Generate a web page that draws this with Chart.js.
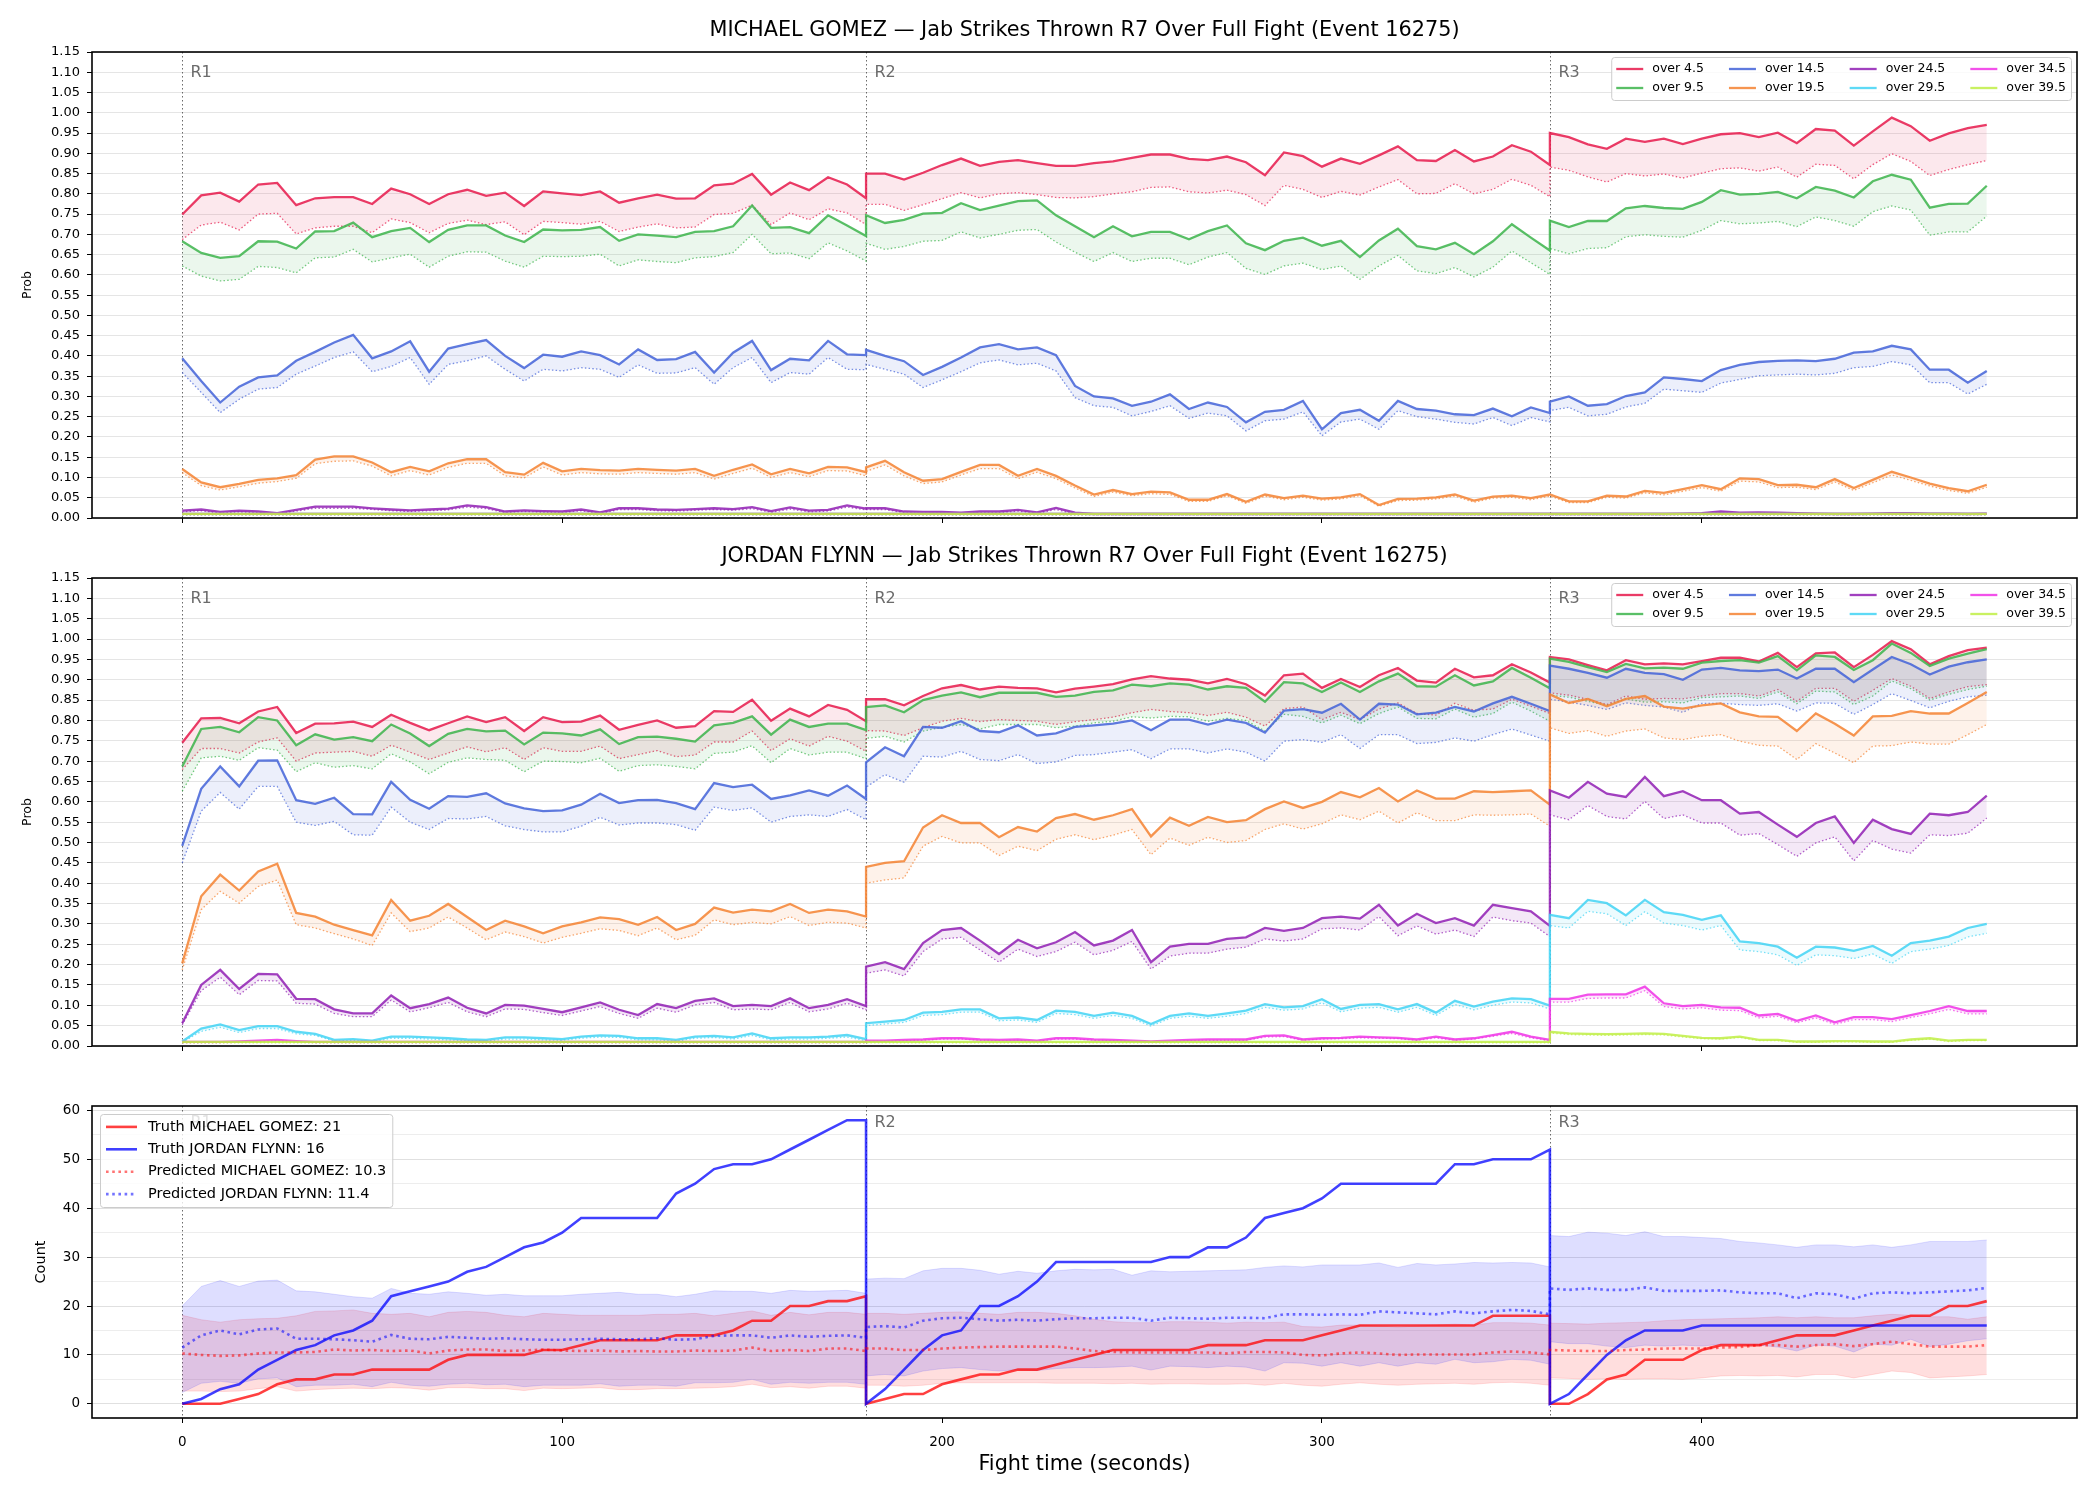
<!DOCTYPE html>
<html>
<head>
<meta charset="utf-8">
<script src="https://cdn.jsdelivr.net/npm/chart.js@4.4.1/dist/chart.umd.min.js"></script>
<style>
  html, body { margin: 0; padding: 0; background: #fff; }
  #wrap { position: relative; width: 2100px; height: 1500px; overflow: hidden; }
  canvas { position: absolute; left: 0; }
</style>
</head>
<body>
<div id="wrap">
  <canvas id="c1" width="2100" height="548" style="top:0px"></canvas>
  <canvas id="c2" width="2100" height="546" style="top:530px"></canvas>
  <canvas id="c3" width="2100" height="424" style="top:1076px"></canvas>
</div>
<script>
// ---- time axis (seconds), one sample every 5 s, round boundaries repeated ----
const timesR1 = [0,5,10,15,20,25,30,35,40,45,50,55,60,65,70,75,80,85,90,95,100,105,110,115,120,125,130,135,140,145,150,155,160,165,170,175,180];
const timesR2 = [180,185,190,195,200,205,210,215,220,225,230,235,240,245,250,255,260,265,270,275,280,285,290,295,300,305,310,315,320,325,330,335,340,345,350,355,360];
const timesR3 = [360,365,370,375,380,385,390,395,400,405,410,415,420,425,430,435,440,445,450,455,460,465,470,475];
const times = timesR1.concat(timesR2, timesR3);

const roundStarts = [0, 180, 360];
const roundNames = ['R1', 'R2', 'R3'];
const xTicks = [0, 100, 200, 300, 400];
const probTicks = [0,0.05,0.1,0.15,0.2,0.25,0.3,0.35,0.4,0.45,0.5,0.55,0.6,0.65,0.7,0.75,0.8,0.85,0.9,0.95,1,1.05,1.1,1.15];
const countGrid = [0,5,10,15,20,25,30,35,40,45,50,55,60];
const countTicks = [0,10,20,30,40,50,60];

const thresholds = ['over 4.5','over 9.5','over 14.5','over 19.5','over 24.5','over 29.5','over 34.5','over 39.5'];
const lineColors = ['#e6194b','#3cb44b','#4363d8','#f58231','#911eb4','#42d4f4','#f032e6','#bfef45'];

// ---- MICHAEL GOMEZ probabilities (solid = upper, dotted = lower) ----
const p1Hi4 = [0.749,0.796,0.803,0.781,0.823,0.827,0.772,0.789,0.792,0.792,0.775,0.813,0.799,0.775,0.799,0.810,0.795,0.803,0.770,0.806,0.801,0.797,0.806,0.778,0.789,0.798,0.788,0.789,0.821,0.825,0.849,0.798,0.828,0.809,0.841,0.823,0.789,
  0.850,0.850,0.835,0.852,0.871,0.887,0.869,0.879,0.883,0.876,0.869,0.869,0.876,0.880,0.889,0.897,0.897,0.886,0.883,0.892,0.878,0.846,0.902,0.893,0.867,0.887,0.874,0.895,0.917,0.883,0.881,0.908,0.880,0.892,0.920,0.904,0.871,
  0.950,0.940,0.922,0.911,0.936,0.928,0.936,0.923,0.936,0.947,0.950,0.940,0.951,0.925,0.960,0.956,0.919,0.954,0.988,0.967,0.931,0.949,0.962,0.970];
const p1Lo4 = [0.687,0.723,0.730,0.711,0.750,0.752,0.701,0.716,0.720,0.720,0.704,0.738,0.729,0.704,0.727,0.735,0.724,0.731,0.699,0.732,0.729,0.725,0.732,0.707,0.718,0.726,0.716,0.718,0.749,0.752,0.772,0.724,0.753,0.736,0.763,0.753,0.724,
  0.774,0.774,0.759,0.773,0.788,0.803,0.790,0.800,0.803,0.798,0.791,0.790,0.793,0.800,0.805,0.816,0.817,0.805,0.802,0.809,0.798,0.771,0.821,0.811,0.791,0.806,0.797,0.817,0.835,0.800,0.801,0.825,0.800,0.811,0.836,0.821,0.793,
  0.866,0.858,0.842,0.829,0.850,0.844,0.849,0.839,0.851,0.862,0.864,0.856,0.866,0.841,0.873,0.870,0.837,0.872,0.899,0.880,0.845,0.860,0.872,0.882];
const p1Hi9 = [0.683,0.654,0.642,0.646,0.683,0.682,0.665,0.707,0.708,0.729,0.693,0.708,0.716,0.681,0.711,0.722,0.722,0.697,0.681,0.712,0.710,0.711,0.718,0.684,0.700,0.697,0.693,0.706,0.708,0.720,0.771,0.716,0.718,0.703,0.747,0.722,0.696,
  0.747,0.728,0.736,0.751,0.753,0.777,0.760,0.771,0.782,0.784,0.747,0.720,0.693,0.720,0.695,0.706,0.706,0.688,0.708,0.722,0.678,0.661,0.684,0.692,0.672,0.684,0.644,0.685,0.714,0.671,0.663,0.679,0.651,0.683,0.725,0.692,0.660,
  0.734,0.718,0.733,0.733,0.764,0.770,0.765,0.763,0.780,0.809,0.798,0.800,0.805,0.789,0.817,0.808,0.791,0.831,0.847,0.835,0.766,0.775,0.776,0.820];
const p1Lo9 = [0.622,0.597,0.585,0.589,0.621,0.618,0.605,0.642,0.644,0.663,0.632,0.642,0.651,0.619,0.646,0.657,0.656,0.634,0.619,0.646,0.645,0.646,0.651,0.622,0.637,0.633,0.630,0.642,0.645,0.655,0.700,0.652,0.654,0.640,0.679,0.659,0.634,
  0.678,0.663,0.670,0.683,0.685,0.706,0.691,0.700,0.710,0.712,0.681,0.656,0.633,0.655,0.633,0.641,0.641,0.625,0.644,0.655,0.616,0.601,0.622,0.629,0.613,0.622,0.589,0.622,0.648,0.610,0.603,0.618,0.595,0.619,0.659,0.630,0.601,
  0.665,0.652,0.665,0.667,0.694,0.699,0.695,0.693,0.710,0.734,0.726,0.728,0.732,0.719,0.743,0.734,0.720,0.756,0.770,0.760,0.698,0.706,0.706,0.745];
const p1Hi14 = [0.394,0.338,0.285,0.324,0.347,0.352,0.388,0.410,0.433,0.452,0.394,0.411,0.436,0.361,0.418,0.429,0.439,0.400,0.370,0.403,0.398,0.411,0.402,0.379,0.416,0.390,0.392,0.410,0.359,0.408,0.437,0.365,0.393,0.389,0.437,0.404,0.402,
  0.415,0.400,0.387,0.353,0.373,0.396,0.421,0.429,0.416,0.421,0.402,0.326,0.300,0.295,0.277,0.287,0.305,0.269,0.285,0.274,0.236,0.262,0.267,0.289,0.219,0.259,0.267,0.240,0.289,0.269,0.265,0.256,0.254,0.270,0.251,0.273,0.259,
  0.287,0.300,0.277,0.281,0.301,0.310,0.347,0.343,0.338,0.365,0.378,0.385,0.388,0.389,0.387,0.393,0.408,0.411,0.425,0.416,0.366,0.366,0.334,0.363];
const p1Lo14 = [0.359,0.310,0.260,0.293,0.318,0.322,0.355,0.375,0.396,0.410,0.361,0.374,0.396,0.330,0.379,0.388,0.400,0.367,0.338,0.367,0.363,0.371,0.367,0.347,0.378,0.357,0.358,0.371,0.330,0.371,0.396,0.334,0.359,0.355,0.396,0.367,0.366,
  0.379,0.367,0.355,0.322,0.341,0.361,0.383,0.390,0.378,0.382,0.363,0.297,0.277,0.273,0.252,0.263,0.277,0.246,0.259,0.252,0.215,0.240,0.244,0.262,0.203,0.237,0.244,0.219,0.265,0.250,0.244,0.236,0.232,0.248,0.228,0.248,0.237,
  0.265,0.273,0.252,0.256,0.274,0.283,0.318,0.314,0.310,0.333,0.342,0.351,0.353,0.355,0.353,0.357,0.371,0.374,0.386,0.378,0.334,0.334,0.306,0.330];
const p1Hi19 = [0.121,0.088,0.076,0.084,0.094,0.098,0.106,0.144,0.152,0.152,0.137,0.113,0.126,0.115,0.135,0.145,0.145,0.113,0.107,0.136,0.115,0.121,0.118,0.117,0.121,0.119,0.117,0.121,0.104,0.119,0.132,0.108,0.121,0.110,0.126,0.125,0.113,
  0.125,0.141,0.113,0.092,0.096,0.114,0.131,0.131,0.104,0.121,0.104,0.080,0.058,0.069,0.059,0.065,0.063,0.045,0.045,0.059,0.040,0.058,0.049,0.055,0.048,0.051,0.059,0.032,0.047,0.048,0.051,0.058,0.043,0.053,0.055,0.049,0.058,
  0.058,0.041,0.041,0.055,0.053,0.067,0.062,0.071,0.081,0.071,0.098,0.096,0.081,0.082,0.076,0.096,0.074,0.094,0.114,0.100,0.085,0.074,0.066,0.082];
const p1Lo19 = [0.112,0.080,0.069,0.077,0.086,0.090,0.098,0.134,0.140,0.141,0.128,0.104,0.117,0.106,0.125,0.135,0.135,0.104,0.099,0.126,0.106,0.112,0.109,0.108,0.112,0.110,0.108,0.112,0.096,0.110,0.123,0.100,0.112,0.102,0.117,0.116,0.104,
  0.115,0.131,0.104,0.085,0.089,0.106,0.122,0.122,0.097,0.113,0.097,0.074,0.053,0.064,0.055,0.060,0.058,0.041,0.041,0.055,0.036,0.054,0.045,0.051,0.044,0.047,0.055,0.029,0.043,0.044,0.047,0.054,0.039,0.049,0.051,0.045,0.054,
  0.054,0.038,0.038,0.051,0.049,0.062,0.057,0.066,0.075,0.066,0.091,0.089,0.075,0.076,0.070,0.089,0.068,0.087,0.106,0.093,0.079,0.068,0.061,0.076];
const p1Hi24 = [0.018,0.021,0.015,0.018,0.016,0.012,0.020,0.028,0.028,0.028,0.024,0.021,0.019,0.021,0.023,0.031,0.027,0.016,0.019,0.017,0.016,0.021,0.014,0.024,0.024,0.021,0.020,0.022,0.024,0.022,0.027,0.017,0.026,0.018,0.020,0.031,0.023,
  0.024,0.024,0.016,0.015,0.015,0.013,0.016,0.016,0.020,0.014,0.025,0.013,0.010,0.010,0.010,0.010,0.010,0.010,0.010,0.010,0.010,0.010,0.010,0.010,0.010,0.010,0.010,0.010,0.010,0.010,0.010,0.010,0.010,0.010,0.010,0.010,0.010,
  0.010,0.010,0.010,0.010,0.010,0.010,0.010,0.011,0.012,0.016,0.013,0.014,0.013,0.012,0.011,0.010,0.010,0.011,0.012,0.012,0.011,0.011,0.010,0.011];
const p1Lo24 = [0.015,0.018,0.012,0.015,0.013,0.010,0.017,0.024,0.024,0.024,0.021,0.018,0.016,0.018,0.020,0.027,0.023,0.013,0.016,0.014,0.013,0.018,0.011,0.021,0.021,0.018,0.017,0.019,0.021,0.019,0.023,0.014,0.022,0.015,0.017,0.027,0.020,
  0.021,0.021,0.013,0.012,0.012,0.010,0.013,0.013,0.017,0.011,0.021,0.010,0.008,0.008,0.008,0.008,0.008,0.008,0.008,0.008,0.008,0.008,0.008,0.008,0.008,0.008,0.008,0.008,0.008,0.008,0.008,0.008,0.008,0.008,0.008,0.008,0.008,
  0.008,0.008,0.008,0.008,0.008,0.008,0.008,0.009,0.010,0.013,0.011,0.012,0.011,0.010,0.009,0.008,0.008,0.009,0.010,0.010,0.009,0.009,0.008,0.009];
// over 29.5 / 34.5 / 39.5 for MICHAEL GOMEZ sit on the floor for the whole fight
const p1HiFloor = [0.010,0.010,0.010,0.010,0.010,0.010,0.010,0.010,0.010,0.010,0.010,0.010,0.010,0.010,0.010,0.010,0.010,0.010,0.010,0.010,0.010,0.010,0.010,0.010,0.010,0.010,0.010,0.010,0.010,0.010,0.010,0.010,0.010,0.010,0.010,0.010,0.010,
  0.010,0.010,0.010,0.010,0.010,0.010,0.010,0.010,0.010,0.010,0.010,0.010,0.010,0.010,0.010,0.010,0.010,0.010,0.010,0.010,0.010,0.010,0.010,0.010,0.010,0.010,0.010,0.010,0.010,0.010,0.010,0.010,0.010,0.010,0.010,0.010,0.010,
  0.010,0.010,0.010,0.010,0.010,0.010,0.010,0.010,0.010,0.010,0.010,0.010,0.010,0.010,0.010,0.010,0.010,0.010,0.010,0.010,0.010,0.010,0.010,0.010];
const p1LoFloor = [0.008,0.008,0.008,0.008,0.008,0.008,0.008,0.008,0.008,0.008,0.008,0.008,0.008,0.008,0.008,0.008,0.008,0.008,0.008,0.008,0.008,0.008,0.008,0.008,0.008,0.008,0.008,0.008,0.008,0.008,0.008,0.008,0.008,0.008,0.008,0.008,0.008,
  0.008,0.008,0.008,0.008,0.008,0.008,0.008,0.008,0.008,0.008,0.008,0.008,0.008,0.008,0.008,0.008,0.008,0.008,0.008,0.008,0.008,0.008,0.008,0.008,0.008,0.008,0.008,0.008,0.008,0.008,0.008,0.008,0.008,0.008,0.008,0.008,0.008,
  0.008,0.008,0.008,0.008,0.008,0.008,0.008,0.008,0.008,0.008,0.008,0.008,0.008,0.008,0.008,0.008,0.008,0.008,0.008,0.008,0.008,0.008,0.008,0.008];

// ---- JORDAN FLYNN probabilities ----
const p2Hi4 = [0.745,0.805,0.806,0.793,0.822,0.833,0.769,0.792,0.793,0.797,0.784,0.814,0.794,0.776,0.793,0.810,0.796,0.808,0.774,0.808,0.796,0.797,0.812,0.777,0.789,0.800,0.782,0.786,0.823,0.821,0.851,0.799,0.829,0.810,0.838,0.826,0.798,
  0.852,0.852,0.837,0.860,0.879,0.887,0.876,0.883,0.880,0.879,0.869,0.878,0.883,0.889,0.901,0.909,0.903,0.900,0.891,0.902,0.889,0.861,0.911,0.915,0.880,0.902,0.882,0.911,0.929,0.898,0.893,0.927,0.906,0.911,0.938,0.918,0.893,
  0.956,0.950,0.936,0.923,0.948,0.938,0.940,0.938,0.946,0.954,0.954,0.945,0.966,0.931,0.965,0.967,0.931,0.961,0.995,0.975,0.938,0.958,0.973,0.979];
const p2Lo4 = [0.679,0.731,0.731,0.720,0.747,0.757,0.700,0.720,0.722,0.724,0.712,0.739,0.722,0.704,0.720,0.735,0.723,0.733,0.704,0.733,0.724,0.724,0.737,0.706,0.716,0.726,0.711,0.715,0.747,0.747,0.774,0.726,0.755,0.737,0.761,0.749,0.724,
  0.775,0.774,0.763,0.782,0.798,0.805,0.797,0.802,0.800,0.798,0.790,0.797,0.802,0.808,0.819,0.827,0.822,0.819,0.812,0.820,0.808,0.786,0.829,0.833,0.802,0.820,0.802,0.828,0.843,0.817,0.813,0.842,0.825,0.828,0.852,0.835,0.817,
  0.868,0.862,0.852,0.839,0.860,0.852,0.854,0.853,0.860,0.866,0.866,0.860,0.876,0.847,0.879,0.879,0.847,0.874,0.903,0.884,0.854,0.870,0.883,0.888];
const p2Hi9 = [0.687,0.779,0.784,0.771,0.808,0.800,0.739,0.766,0.753,0.759,0.749,0.790,0.768,0.737,0.767,0.779,0.773,0.775,0.741,0.770,0.768,0.763,0.778,0.742,0.759,0.760,0.755,0.748,0.788,0.794,0.810,0.765,0.802,0.784,0.792,0.792,0.776,
  0.833,0.837,0.820,0.850,0.861,0.869,0.857,0.868,0.868,0.868,0.858,0.861,0.870,0.874,0.888,0.884,0.891,0.888,0.876,0.884,0.880,0.846,0.894,0.891,0.870,0.893,0.870,0.896,0.915,0.884,0.883,0.911,0.886,0.896,0.929,0.905,0.879,
  0.952,0.944,0.931,0.919,0.939,0.928,0.930,0.927,0.942,0.946,0.948,0.942,0.958,0.923,0.960,0.956,0.924,0.948,0.989,0.966,0.934,0.952,0.964,0.975];
const p2Lo9 = [0.626,0.708,0.712,0.702,0.733,0.727,0.674,0.696,0.685,0.689,0.681,0.718,0.698,0.669,0.697,0.708,0.704,0.702,0.674,0.700,0.699,0.696,0.707,0.675,0.689,0.691,0.687,0.681,0.719,0.722,0.738,0.696,0.731,0.715,0.722,0.722,0.706,
  0.756,0.761,0.747,0.774,0.783,0.790,0.779,0.790,0.790,0.790,0.782,0.786,0.794,0.798,0.809,0.806,0.810,0.809,0.798,0.805,0.800,0.774,0.815,0.810,0.794,0.813,0.792,0.817,0.833,0.805,0.804,0.828,0.808,0.817,0.845,0.823,0.798,
  0.862,0.857,0.847,0.837,0.853,0.845,0.846,0.843,0.856,0.858,0.860,0.854,0.870,0.841,0.872,0.870,0.839,0.860,0.897,0.878,0.850,0.864,0.876,0.884];
const p2Hi14 = [0.492,0.632,0.687,0.638,0.701,0.702,0.604,0.595,0.610,0.570,0.569,0.649,0.605,0.583,0.614,0.612,0.621,0.596,0.584,0.577,0.579,0.593,0.620,0.597,0.604,0.605,0.597,0.582,0.646,0.636,0.642,0.607,0.616,0.628,0.615,0.640,0.607,
  0.697,0.734,0.712,0.784,0.782,0.798,0.774,0.771,0.788,0.763,0.768,0.784,0.788,0.792,0.800,0.776,0.802,0.802,0.790,0.802,0.794,0.770,0.824,0.828,0.819,0.841,0.802,0.841,0.839,0.815,0.819,0.833,0.822,0.842,0.858,0.841,0.823,
  0.935,0.927,0.917,0.905,0.927,0.917,0.914,0.900,0.925,0.929,0.923,0.921,0.925,0.903,0.927,0.927,0.894,0.925,0.956,0.938,0.913,0.932,0.943,0.950];
const p2Lo14 = [0.450,0.577,0.623,0.582,0.638,0.638,0.550,0.542,0.552,0.519,0.518,0.587,0.550,0.532,0.559,0.558,0.564,0.541,0.532,0.526,0.526,0.540,0.562,0.543,0.548,0.548,0.544,0.530,0.587,0.579,0.585,0.550,0.564,0.568,0.564,0.581,0.556,
  0.636,0.667,0.648,0.712,0.710,0.724,0.704,0.701,0.716,0.694,0.698,0.714,0.716,0.722,0.728,0.706,0.730,0.730,0.720,0.730,0.722,0.700,0.749,0.753,0.746,0.765,0.731,0.765,0.765,0.743,0.746,0.757,0.749,0.765,0.779,0.764,0.749,
  0.852,0.845,0.837,0.827,0.843,0.837,0.833,0.820,0.842,0.842,0.839,0.837,0.841,0.823,0.843,0.842,0.815,0.839,0.866,0.849,0.831,0.847,0.858,0.862];
const p2Hi19 = [0.203,0.368,0.421,0.382,0.429,0.448,0.327,0.318,0.298,0.285,0.272,0.359,0.308,0.320,0.349,0.317,0.285,0.308,0.294,0.277,0.294,0.304,0.316,0.312,0.298,0.317,0.285,0.300,0.340,0.328,0.335,0.331,0.349,0.327,0.335,0.331,0.318,
  0.440,0.450,0.454,0.537,0.567,0.548,0.548,0.513,0.538,0.527,0.560,0.570,0.556,0.567,0.582,0.515,0.561,0.541,0.563,0.550,0.555,0.582,0.601,0.585,0.600,0.624,0.611,0.634,0.601,0.628,0.608,0.608,0.626,0.624,0.626,0.628,0.593,
  0.864,0.843,0.853,0.835,0.853,0.860,0.834,0.829,0.837,0.842,0.820,0.810,0.809,0.774,0.817,0.792,0.763,0.810,0.811,0.823,0.817,0.817,0.843,0.870];
const p2Lo19 = [0.187,0.335,0.380,0.351,0.392,0.408,0.298,0.290,0.276,0.263,0.247,0.327,0.281,0.290,0.317,0.290,0.261,0.280,0.269,0.253,0.267,0.277,0.288,0.284,0.271,0.290,0.261,0.272,0.310,0.298,0.304,0.300,0.318,0.296,0.304,0.302,0.290,
  0.400,0.408,0.413,0.491,0.515,0.499,0.499,0.468,0.491,0.480,0.508,0.519,0.507,0.518,0.532,0.470,0.511,0.493,0.513,0.500,0.505,0.532,0.546,0.533,0.546,0.568,0.556,0.577,0.548,0.573,0.554,0.554,0.568,0.567,0.568,0.570,0.540,
  0.782,0.768,0.775,0.761,0.774,0.779,0.757,0.753,0.761,0.765,0.749,0.739,0.737,0.704,0.743,0.720,0.696,0.737,0.738,0.747,0.742,0.742,0.765,0.790];
const p2Hi24 = [0.056,0.150,0.187,0.140,0.177,0.176,0.116,0.115,0.090,0.080,0.080,0.124,0.093,0.103,0.119,0.094,0.080,0.101,0.099,0.091,0.083,0.095,0.107,0.089,0.076,0.103,0.093,0.111,0.117,0.098,0.101,0.098,0.117,0.093,0.101,0.115,0.098,
  0.195,0.206,0.189,0.253,0.285,0.290,0.259,0.226,0.261,0.240,0.255,0.280,0.247,0.259,0.285,0.206,0.244,0.251,0.251,0.263,0.267,0.290,0.283,0.290,0.314,0.318,0.313,0.347,0.296,0.325,0.302,0.314,0.296,0.347,0.339,0.331,0.295,
  0.628,0.610,0.649,0.620,0.612,0.661,0.614,0.626,0.604,0.604,0.571,0.575,0.544,0.514,0.548,0.564,0.499,0.556,0.533,0.521,0.571,0.567,0.575,0.615];
const p2Lo24 = [0.052,0.136,0.169,0.126,0.161,0.160,0.105,0.103,0.080,0.072,0.072,0.113,0.084,0.094,0.107,0.084,0.072,0.091,0.090,0.082,0.075,0.086,0.097,0.080,0.068,0.093,0.083,0.101,0.107,0.089,0.091,0.089,0.107,0.084,0.091,0.105,0.089,
  0.179,0.187,0.172,0.232,0.263,0.267,0.236,0.206,0.238,0.220,0.232,0.255,0.224,0.235,0.257,0.189,0.221,0.228,0.228,0.238,0.243,0.263,0.258,0.263,0.288,0.290,0.285,0.318,0.271,0.295,0.275,0.285,0.269,0.317,0.308,0.302,0.269,
  0.568,0.556,0.591,0.564,0.558,0.601,0.559,0.568,0.548,0.548,0.518,0.522,0.495,0.466,0.499,0.514,0.455,0.505,0.484,0.474,0.519,0.517,0.523,0.560];
const p2Hi29 = [0.011,0.043,0.053,0.039,0.049,0.049,0.035,0.030,0.015,0.017,0.013,0.023,0.023,0.021,0.019,0.016,0.015,0.021,0.021,0.019,0.017,0.023,0.026,0.025,0.019,0.019,0.015,0.023,0.025,0.021,0.031,0.019,0.021,0.021,0.023,0.027,0.017,
  0.056,0.060,0.064,0.082,0.084,0.090,0.090,0.068,0.070,0.064,0.087,0.084,0.074,0.082,0.074,0.054,0.074,0.080,0.074,0.080,0.087,0.103,0.095,0.098,0.115,0.091,0.101,0.103,0.090,0.103,0.082,0.111,0.097,0.109,0.117,0.115,0.099,
  0.322,0.314,0.359,0.351,0.321,0.359,0.329,0.322,0.310,0.321,0.257,0.253,0.244,0.217,0.244,0.242,0.234,0.246,0.222,0.253,0.259,0.269,0.290,0.300];
const p2Lo29 = [0.009,0.036,0.046,0.033,0.043,0.043,0.030,0.026,0.012,0.014,0.010,0.019,0.019,0.017,0.015,0.013,0.012,0.017,0.017,0.015,0.014,0.019,0.022,0.021,0.015,0.015,0.012,0.019,0.021,0.017,0.026,0.015,0.017,0.017,0.019,0.022,0.013,
  0.050,0.054,0.058,0.075,0.077,0.083,0.083,0.062,0.064,0.058,0.080,0.077,0.068,0.075,0.068,0.049,0.068,0.073,0.068,0.073,0.080,0.095,0.088,0.091,0.106,0.084,0.093,0.095,0.083,0.095,0.075,0.102,0.089,0.100,0.108,0.106,0.091,
  0.296,0.290,0.331,0.325,0.296,0.330,0.302,0.296,0.285,0.296,0.236,0.232,0.224,0.198,0.224,0.222,0.215,0.226,0.203,0.232,0.238,0.247,0.268,0.277];
const p2Hi34 = [0.010,0.010,0.010,0.011,0.013,0.015,0.012,0.010,0.010,0.010,0.010,0.010,0.010,0.010,0.010,0.010,0.010,0.010,0.010,0.010,0.010,0.010,0.010,0.010,0.010,0.010,0.010,0.010,0.010,0.010,0.010,0.010,0.010,0.010,0.010,0.010,0.010,
  0.013,0.013,0.015,0.016,0.019,0.019,0.016,0.015,0.016,0.013,0.019,0.019,0.016,0.015,0.013,0.011,0.013,0.015,0.016,0.016,0.016,0.025,0.026,0.016,0.019,0.020,0.023,0.021,0.020,0.016,0.023,0.016,0.019,0.027,0.035,0.023,0.015,
  0.116,0.116,0.126,0.127,0.127,0.146,0.105,0.098,0.101,0.095,0.094,0.075,0.079,0.062,0.075,0.058,0.071,0.071,0.066,0.076,0.086,0.098,0.086,0.086];
const p2Lo34 = [0.008,0.008,0.008,0.009,0.011,0.013,0.010,0.008,0.008,0.008,0.008,0.008,0.008,0.008,0.008,0.008,0.008,0.008,0.008,0.008,0.008,0.008,0.008,0.008,0.008,0.008,0.008,0.008,0.008,0.008,0.008,0.008,0.008,0.008,0.008,0.008,0.008,
  0.011,0.011,0.013,0.014,0.017,0.017,0.014,0.013,0.014,0.011,0.017,0.017,0.014,0.013,0.011,0.009,0.011,0.013,0.014,0.014,0.014,0.022,0.023,0.014,0.017,0.018,0.020,0.019,0.018,0.014,0.020,0.014,0.017,0.024,0.031,0.020,0.013,
  0.108,0.108,0.117,0.118,0.118,0.136,0.097,0.091,0.094,0.088,0.087,0.069,0.073,0.057,0.069,0.053,0.065,0.065,0.060,0.070,0.079,0.090,0.079,0.079];
const p2Hi39 = [0.010,0.010,0.010,0.010,0.010,0.010,0.010,0.010,0.010,0.010,0.010,0.010,0.010,0.010,0.010,0.010,0.010,0.010,0.010,0.010,0.010,0.010,0.010,0.010,0.010,0.010,0.010,0.010,0.010,0.010,0.010,0.010,0.010,0.010,0.010,0.010,0.010,
  0.010,0.010,0.010,0.010,0.010,0.010,0.010,0.010,0.010,0.010,0.010,0.010,0.010,0.010,0.010,0.010,0.010,0.010,0.010,0.010,0.010,0.010,0.010,0.010,0.010,0.010,0.010,0.010,0.010,0.010,0.010,0.010,0.010,0.010,0.010,0.010,0.010,
  0.035,0.031,0.030,0.029,0.030,0.031,0.030,0.025,0.020,0.019,0.023,0.015,0.015,0.011,0.011,0.012,0.012,0.011,0.011,0.016,0.019,0.013,0.015,0.015];
const p2Lo39 = [0.008,0.008,0.008,0.008,0.008,0.008,0.008,0.008,0.008,0.008,0.008,0.008,0.008,0.008,0.008,0.008,0.008,0.008,0.008,0.008,0.008,0.008,0.008,0.008,0.008,0.008,0.008,0.008,0.008,0.008,0.008,0.008,0.008,0.008,0.008,0.008,0.008,
  0.008,0.008,0.008,0.008,0.008,0.008,0.008,0.008,0.008,0.008,0.008,0.008,0.008,0.008,0.008,0.008,0.008,0.008,0.008,0.008,0.008,0.008,0.008,0.008,0.008,0.008,0.008,0.008,0.008,0.008,0.008,0.008,0.008,0.008,0.008,0.008,0.008,
  0.032,0.028,0.027,0.026,0.027,0.028,0.027,0.022,0.018,0.017,0.021,0.013,0.013,0.009,0.009,0.010,0.010,0.009,0.009,0.014,0.017,0.011,0.013,0.013];

// ---- cumulative jab counts ----
const truthGomez = [0,0,0,1,2,4,5,5,6,6,7,7,7,7,9,10,10,10,10,11,11,12,13,13,13,13,14,14,14,15,17,17,20,20,21,21,22,
  0,1,2,2,4,5,6,6,7,7,8,9,10,11,11,11,11,11,12,12,12,13,13,13,14,15,16,16,16,16,16,16,16,18,18,18,18,
  0,0,2,5,6,9,9,9,11,12,12,12,13,14,14,14,15,16,17,18,18,20,20,21];
const truthFlynn = [0,1,3,4,7,9,11,12,14,15,17,22,23,24,25,27,28,30,32,33,35,38,38,38,38,38,43,45,48,49,49,50,52,54,56,58,58,
  0,3,7,11,14,15,20,20,22,25,29,29,29,29,29,29,30,30,32,32,34,38,39,40,42,45,45,45,45,45,45,49,49,50,50,50,52,
  0,2,6,10,13,15,15,15,16,16,16,16,16,16,16,16,16,16,16,16,16,16,16,16];
const predGomez = [10.3,10.0,9.8,9.9,10.3,10.5,10.5,10.6,11.1,10.9,11.0,10.8,10.9,10.3,10.9,11.1,11.1,10.8,10.9,11.1,10.9,10.8,10.9,10.7,10.8,10.7,10.7,10.9,10.8,10.9,11.5,10.8,11.0,10.8,11.3,11.3,10.8,
  11.3,11.3,11.0,11.0,11.3,11.5,11.6,11.7,11.7,11.7,11.7,11.3,10.8,10.6,10.5,10.5,10.5,10.5,10.5,10.3,10.6,10.6,10.5,10.0,9.9,10.3,10.5,10.3,10.0,10.1,10.1,10.1,10.1,10.5,10.7,10.5,10.1,
  11.0,10.9,10.8,10.8,11.0,11.1,11.3,11.3,11.3,11.5,11.6,12.0,12.0,11.7,12.0,12.2,11.8,12.2,12.7,12.2,11.7,11.7,11.7,12.0];
const predFlynn = [11.5,14.0,15.0,14.2,15.2,15.4,13.3,13.3,13.2,13.0,12.7,14.1,13.3,13.2,13.7,13.5,13.3,13.4,13.2,13.1,13.1,13.2,13.3,13.2,13.2,13.4,13.1,13.2,13.9,14.0,14.0,13.5,14.0,13.7,13.9,14.0,13.5,
  15.7,15.9,15.6,17.0,17.5,17.6,17.3,17.0,17.2,17.0,17.3,17.5,17.5,17.6,17.6,17.0,17.6,17.5,17.4,17.6,17.6,17.5,18.3,18.3,18.2,18.3,18.2,18.9,18.7,18.5,18.3,18.9,18.5,18.9,19.2,19.0,18.3,
  23.6,23.3,23.6,23.3,23.3,23.8,23.1,23.1,23.1,23.2,22.8,22.6,22.6,21.6,22.6,22.4,21.5,22.6,22.8,22.6,22.8,23.0,23.2,23.7];
const bandGomezHi = [18.1,17.2,16.7,17.2,17.4,17.5,18.0,18.9,19.0,19.2,18.5,18.3,18.5,17.8,18.7,18.9,18.7,18.1,17.8,18.5,18.3,18.1,18.1,18.1,18.1,18.3,18.3,18.5,18.0,18.5,19.0,18.1,18.7,18.2,18.7,18.7,18.3,
  18.5,18.5,18.3,18.5,18.7,18.8,18.5,18.3,18.7,18.7,18.5,18.0,17.3,16.8,16.6,16.6,16.8,16.8,16.7,16.5,16.7,16.6,16.7,15.8,15.7,16.1,16.1,15.9,15.7,15.9,16.1,16.3,16.1,16.6,16.6,16.5,16.1,
  16.5,16.4,16.3,16.5,16.6,16.7,17.0,17.2,17.3,17.4,17.5,17.6,17.8,17.6,17.8,17.6,17.6,18.0,18.3,18.1,17.8,17.8,17.3,17.8];
const bandGomezLo = [2.6,2.6,2.5,2.6,3.1,3.5,2.6,2.9,3.1,3.2,3.1,3.3,3.2,2.8,3.3,3.3,3.1,3.1,2.7,3.2,3.1,3.2,3.3,2.9,2.9,3.1,3.1,3.2,3.3,3.5,4.0,3.3,3.5,3.2,3.6,3.6,3.2,
  3.8,3.8,3.6,3.8,4.2,4.3,4.3,4.3,4.3,4.3,4.2,4.2,4.2,4.1,4.2,4.0,4.1,4.1,4.0,4.0,4.1,3.8,4.2,3.8,3.6,4.0,4.3,4.0,3.8,4.0,4.1,4.2,4.0,4.3,4.4,4.2,3.8,
  5.3,5.2,5.0,5.1,5.0,5.1,5.1,5.0,5.3,5.7,5.8,5.7,5.8,5.5,6.0,6.0,5.3,6.0,6.7,6.4,5.3,5.5,5.7,6.0];
const bandFlynnHi = [20.0,24.0,25.2,24.0,25.1,25.3,23.1,22.9,22.4,21.9,21.6,23.6,22.6,22.4,22.9,22.6,22.2,22.4,22.1,22.1,22.1,22.4,22.6,22.8,22.4,22.4,21.9,22.4,23.1,23.0,23.0,22.6,23.2,23.0,23.1,23.2,22.6,
  25.5,25.7,25.6,27.2,27.7,27.7,27.3,26.5,27.1,26.7,27.2,27.5,27.4,27.5,26.3,27.2,27.0,27.1,27.2,27.3,27.4,27.9,28.2,28.0,28.4,28.4,28.4,28.8,27.9,28.7,28.4,28.6,28.9,28.8,28.9,28.8,28.0,
  34.4,34.2,35.1,34.9,34.4,35.2,34.2,34.2,34.0,33.8,33.2,32.9,32.5,32.0,32.5,32.5,32.1,32.5,32.0,32.5,33.2,33.2,33.2,33.5];
const bandFlynnLo = [2.3,4.2,4.6,4.2,5.1,5.3,3.5,3.8,3.8,4.0,3.5,4.4,3.8,3.6,4.0,4.2,3.9,4.0,3.5,3.8,3.8,3.8,4.1,3.6,3.8,3.8,3.6,4.3,4.3,4.4,5.0,4.0,4.4,4.2,4.4,4.4,4.0,
  5.7,6.0,5.7,6.7,7.2,7.4,7.0,6.7,7.0,6.8,7.2,7.4,7.4,7.5,7.7,6.9,7.7,7.6,7.4,7.7,7.5,6.7,8.4,8.3,7.7,8.4,7.7,8.4,7.7,8.4,8.1,9.1,8.4,8.6,9.1,8.9,8.1,
  12.7,12.3,12.3,11.8,11.5,12.0,11.8,12.0,11.8,12.2,12.2,12.0,11.6,10.8,12.0,11.8,10.6,12.2,12.0,13.2,11.7,12.2,12.9,13.3];

const FONT = '"DejaVu Sans", sans-serif';
Chart.defaults.font.family = FONT;
Chart.defaults.color = '#000';

function rgba(hex, a) {
  const n = parseInt(hex.slice(1), 16);
  return 'rgba(' + (n >> 16) + ',' + ((n >> 8) & 255) + ',' + (n & 255) + ',' + a + ')';
}
function pts(vals) {
  return times.map((t, k) => ({ x: t, y: vals[k] }));
}

function probDatasets(his, los) {
  const out = [];
  thresholds.forEach((name, i) => {
    out.push({ label: name, data: pts(his[i]), borderColor: rgba(lineColors[i], 0.85), borderWidth: 2.3,
      backgroundColor: rgba(lineColors[i], 0.1), fill: '+1', order: -2 * i });
    out.push({ label: name + ' low', data: pts(los[i]), borderColor: rgba(lineColors[i], 0.7), borderWidth: 1.3,
      borderDash: [1.5, 2.2], fill: false, order: -2 * i - 1 });
  });
  return out;
}

function drawLegend(ctx, a, lg) {
  ctx.font = lg.fontSize + 'px ' + FONT;
  const cols = Math.ceil(lg.items.length / lg.rows);
  const colW = [];
  for (let c = 0; c < cols; c++) {
    let w = 0;
    for (let r = 0; r < lg.rows; r++) {
      const it = lg.items[c * lg.rows + r];
      if (it) w = Math.max(w, ctx.measureText(it.label).width);
    }
    colW.push(lg.handleLen + lg.handlePad + w);
  }
  const boxW = lg.padX * 2 + colW.reduce((s, v) => s + v, 0) + lg.colGap * (cols - 1);
  const boxH = lg.padY * 2 + lg.rowH * lg.rows;
  const bx = lg.right ? a.right - lg.offX - boxW : a.left + lg.offX;
  const by = a.top + lg.offY;
  ctx.beginPath();
  ctx.roundRect(bx + 0.5, by + 0.5, boxW, boxH, 3);
  ctx.fillStyle = 'rgba(255,255,255,0.8)';
  ctx.fill();
  ctx.strokeStyle = '#cccccc';
  ctx.lineWidth = 1;
  ctx.stroke();
  let cx = bx + lg.padX;
  for (let c = 0; c < cols; c++) {
    for (let r = 0; r < lg.rows; r++) {
      const it = lg.items[c * lg.rows + r];
      if (!it) continue;
      const y = by + lg.padY + lg.rowH * (r + 0.5);
      ctx.strokeStyle = it.color;
      ctx.lineWidth = it.width;
      ctx.setLineDash(it.dash || []);
      ctx.beginPath();
      ctx.moveTo(cx, y);
      ctx.lineTo(cx + lg.handleLen, y);
      ctx.stroke();
      ctx.setLineDash([]);
      ctx.fillStyle = '#000';
      ctx.textAlign = 'left';
      ctx.textBaseline = 'middle';
      ctx.fillText(it.label, cx + lg.handleLen + lg.handlePad, y);
    }
    cx += colW[c] + lg.colGap;
  }
}

const deco = {
  id: 'deco',
  beforeDatasetsDraw(chart) {
    const { ctx, chartArea: a } = chart;
    const xs = chart.scales.x;
    ctx.save();
    ctx.beginPath();
    ctx.rect(a.left, a.top, a.right - a.left, a.bottom - a.top);
    ctx.clip();
    roundStarts.forEach((t, i) => {
      const px = Math.round(xs.getPixelForValue(t)) + 0.5;
      ctx.strokeStyle = 'rgba(70,70,70,0.8)';
      ctx.lineWidth = 1;
      ctx.setLineDash([1.5, 2.5]);
      ctx.beginPath();
      ctx.moveTo(px, a.top);
      ctx.lineTo(px, a.bottom);
      ctx.stroke();
      ctx.setLineDash([]);
      ctx.fillStyle = 'rgba(70,70,70,0.8)';
      ctx.font = '16px ' + FONT;
      ctx.textAlign = 'left';
      ctx.textBaseline = 'top';
      ctx.fillText(roundNames[i], px + 8, a.top + 0.028 * (a.bottom - a.top));
    });
    ctx.restore();
  },
  afterDraw(chart, args, o) {
    const { ctx, chartArea: a } = chart;
    ctx.save();
    ctx.strokeStyle = '#000';
    ctx.lineWidth = 1.6;
    ctx.strokeRect(a.left, a.top, a.right - a.left, a.bottom - a.top);
    ctx.fillStyle = '#000';
    if (o.title) {
      ctx.font = '20.8px ' + FONT;
      ctx.textAlign = 'center';
      ctx.textBaseline = 'middle';
      ctx.fillText(o.title, (a.left + a.right) / 2, a.top - 21);
    }
    if (o.yLabel) {
      ctx.save();
      ctx.translate(o.yLabelX, (a.top + a.bottom) / 2);
      ctx.rotate(-Math.PI / 2);
      ctx.font = o.yLabelSize + 'px ' + FONT;
      ctx.textAlign = 'center';
      ctx.textBaseline = 'middle';
      ctx.fillText(o.yLabel, 0, 0);
      ctx.restore();
    }
    if (o.xLabel) {
      ctx.font = '20.8px ' + FONT;
      ctx.textAlign = 'center';
      ctx.textBaseline = 'middle';
      ctx.fillText(o.xLabel, (a.left + a.right) / 2, a.bottom + 47);
    }
    if (o.legend) drawLegend(ctx, a, o.legend);
    ctx.restore();
  }
};

const probLegend = {
  rows: 2, fontSize: 12.5, handleLen: 27, handlePad: 9, colGap: 25, rowH: 19, padX: 5, padY: 2.5,
  offX: 6, offY: 5, right: true,
  items: thresholds.map((t, i) => ({ label: t, color: rgba(lineColors[i], 0.85), width: 2.3 }))
};

function xScale(showLabels, height) {
  return {
    type: 'linear', min: -23.75, max: 498.75,
    afterBuildTicks: s => { s.ticks = xTicks.map(v => ({ value: v })); },
    afterFit: s => { s.height = height; },
    grid: { drawOnChartArea: false, drawTicks: true, tickLength: 5, tickColor: '#000' },
    border: { display: false },
    ticks: { autoSkip: false, maxRotation: 0, padding: 11, font: { size: 13.5 }, color: '#000',
      callback: v => (showLabels ? String(v) : '') }
  };
}

function probChart(id, his, los, title, padTop, xHeight) {
  return new Chart(document.getElementById(id), {
    type: 'line',
    data: { datasets: probDatasets(his, los) },
    options: {
      responsive: false, animation: false, devicePixelRatio: 1,
      layout: { padding: { top: padTop, right: 23, left: 0, bottom: 0 } },
      elements: { point: { radius: 0 }, line: { tension: 0 } },
      plugins: {
        legend: { display: false }, tooltip: { enabled: false },
        deco: { title: title, yLabel: 'Prob', yLabelX: 28, yLabelSize: 12.5, legend: probLegend }
      },
      scales: {
        x: xScale(false, xHeight),
        y: {
          min: 0, max: 1.15,
          afterBuildTicks: s => { s.ticks = probTicks.map(v => ({ value: v })); },
          afterFit: s => { s.width = 92; },
          grid: { color: 'rgba(0,0,0,0.1)', lineWidth: 1, tickLength: 5, tickColor: '#000' },
          border: { display: false },
          ticks: { autoSkip: false, padding: 7, font: { size: 13 }, color: '#000', callback: v => v.toFixed(2) }
        }
      }
    },
    plugins: [deco]
  });
}

probChart('c1',
  [p1Hi4, p1Hi9, p1Hi14, p1Hi19, p1Hi24, p1HiFloor, p1HiFloor, p1HiFloor],
  [p1Lo4, p1Lo9, p1Lo14, p1Lo19, p1Lo24, p1LoFloor, p1LoFloor, p1LoFloor],
  'MICHAEL GOMEZ \u2014 Jab Strikes Thrown R7 Over Full Fight (Event 16275)', 52, 30);

probChart('c2',
  [p2Hi4, p2Hi9, p2Hi14, p2Hi19, p2Hi24, p2Hi29, p2Hi34, p2Hi39],
  [p2Lo4, p2Lo9, p2Lo14, p2Lo19, p2Lo24, p2Lo29, p2Lo34, p2Lo39],
  'JORDAN FLYNN \u2014 Jab Strikes Thrown R7 Over Full Fight (Event 16275)', 48, 30);

// ---- counts panel ----
const RED = 'rgba(255,0,0,0.75)', BLUE = 'rgba(0,0,255,0.75)';
const RED_P = 'rgba(255,0,0,0.55)', BLUE_P = 'rgba(0,0,255,0.55)';

new Chart(document.getElementById('c3'), {
  type: 'line',
  data: {
    datasets: [
      { label: 'band A hi', data: pts(bandGomezHi), borderColor: 'rgba(255,0,0,0.12)', borderWidth: 1, backgroundColor: 'rgba(255,0,0,0.13)', fill: '+1', order: 0 },
      { label: 'band A lo', data: pts(bandGomezLo), borderColor: 'rgba(255,0,0,0.12)', borderWidth: 1, fill: false, order: -1 },
      { label: 'band B hi', data: pts(bandFlynnHi), borderColor: 'rgba(0,0,255,0.12)', borderWidth: 1, backgroundColor: 'rgba(0,0,255,0.13)', fill: '+1', order: -2 },
      { label: 'band B lo', data: pts(bandFlynnLo), borderColor: 'rgba(0,0,255,0.12)', borderWidth: 1, fill: false, order: -3 },
      { label: 'Truth MICHAEL GOMEZ: 21', data: pts(truthGomez), borderColor: RED, borderWidth: 2.6, fill: false, order: -4 },
      { label: 'Truth JORDAN FLYNN: 16', data: pts(truthFlynn), borderColor: BLUE, borderWidth: 2.6, fill: false, order: -5 },
      { label: 'Predicted MICHAEL GOMEZ: 10.3', data: pts(predGomez), borderColor: RED_P, borderWidth: 2.6, borderDash: [2.6, 3.6], fill: false, order: -6 },
      { label: 'Predicted JORDAN FLYNN: 11.4', data: pts(predFlynn), borderColor: BLUE_P, borderWidth: 2.6, borderDash: [2.6, 3.6], fill: false, order: -7 }
    ]
  },
  options: {
    responsive: false, animation: false, devicePixelRatio: 1,
    layout: { padding: { top: 30, right: 23, left: 0, bottom: 0 } },
    elements: { point: { radius: 0 }, line: { tension: 0 } },
    plugins: {
      legend: { display: false }, tooltip: { enabled: false },
      deco: {
        yLabel: 'Count', yLabelX: 41, yLabelSize: 14.5, xLabel: 'Fight time (seconds)',
        legend: {
          rows: 4, fontSize: 14.5, handleLen: 31, handlePad: 11, colGap: 0, rowH: 22.4, padX: 6, padY: 1.7,
          offX: 8, offY: 8, right: false,
          items: [
            { label: 'Truth MICHAEL GOMEZ: 21', color: RED, width: 2.6 },
            { label: 'Truth JORDAN FLYNN: 16', color: BLUE, width: 2.6 },
            { label: 'Predicted MICHAEL GOMEZ: 10.3', color: RED_P, width: 2.6, dash: [2.6, 3.6] },
            { label: 'Predicted JORDAN FLYNN: 11.4', color: BLUE_P, width: 2.6, dash: [2.6, 3.6] }
          ]
        }
      }
    },
    scales: {
      x: xScale(true, 82),
      y: {
        min: -2.9, max: 60.9,
        afterBuildTicks: s => { s.ticks = countGrid.map(v => ({ value: v })); },
        afterFit: s => { s.width = 92; },
        grid: {
          color: c => (c.tick && countTicks.includes(c.tick.value) ? 'rgba(0,0,0,0.12)' : 'rgba(0,0,0,0.07)'),
          lineWidth: 1, tickLength: 5,
          tickColor: c => (c.tick && countTicks.includes(c.tick.value) ? '#000' : 'rgba(0,0,0,0)')
        },
        border: { display: false },
        ticks: { autoSkip: false, padding: 7, font: { size: 13.5 }, color: '#000',
          callback: v => (countTicks.includes(v) ? String(v) : '') }
      }
    }
  },
  plugins: [deco]
});
</script>
</body>
</html>
